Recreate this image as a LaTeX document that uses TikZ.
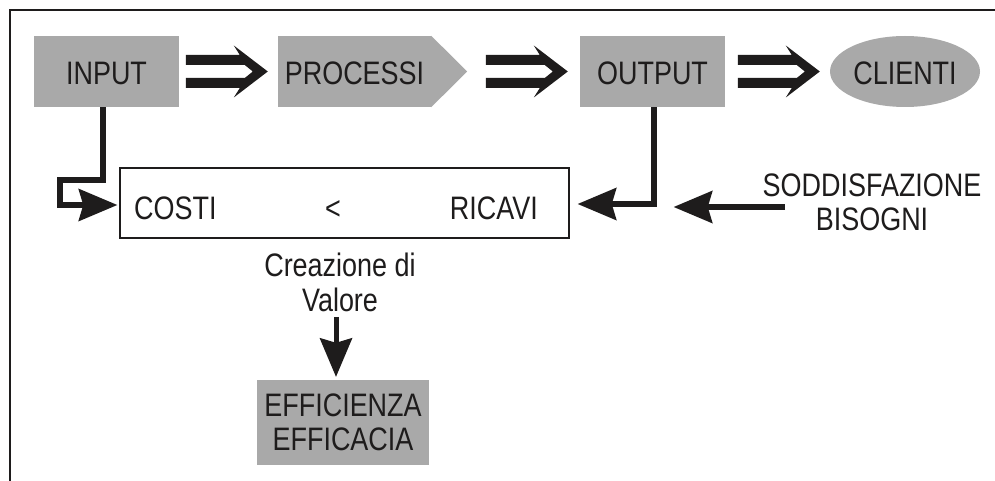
\documentclass[tikz,border=0pt]{standalone}
\usepackage{fontspec}
\setmainfont{Liberation Sans}[FakeStretch=0.83]
\usetikzlibrary{shapes.geometric,arrows.meta,calc}
\definecolor{boxgray}{RGB}{169,169,169}
\definecolor{ink}{RGB}{30,28,28}
\tikzset{
  graybox/.style={rectangle, fill=boxgray, inner sep=0pt, minimum height=71pt,
    text height=27pt, text depth=0pt},
  conn/.style={draw=ink, line width=6pt,
    -{Stealth[length=39pt,width=33pt,inset=5pt,line width=0pt]}},
  txt/.style={inner sep=0pt},
  frameline/.style={draw=ink, line width=2pt},
  dblarrow/.pic={\fill[ink] (-82,-16.5) -- (-28,-16.5) -- (-34,-26) -- (0,0) -- (-34,26)
      -- (-28,16.5) -- (-82,16.5) -- (-82,6.5) -- (-23,6.5) -- (-15,0) -- (-23,-6.5)
      -- (-82,-6.5) -- cycle;}
}
\begin{document}
\begin{tikzpicture}[x=1pt,y=-1pt,font=\fontsize{32.5}{34.5}\selectfont,text=ink]
\useasboundingbox (0,0) rectangle (995,481);
\fill[white] (0,0) rectangle (995,481);
% frame
\draw[frameline] (10,481) -- (10,10) -- (995,10);
% top row
\node[graybox, minimum width=145pt] (input) at (106.5,71.5) {INPUT};
\node[graybox, minimum width=153pt] (processi) at (354.5,71.5) {PROCESSI};
\fill[boxgray] (processi.north east) -- ([xshift=36pt]processi.east) -- (processi.south east) -- cycle;
\node[graybox, minimum width=145pt] (output) at (652.5,71.5) {OUTPUT};
\node[ellipse, fill=boxgray, inner sep=0pt, minimum width=150pt, minimum height=71pt,
  text height=27pt, text depth=0pt] (clienti) at (905,71.5) {CLIENTI};
\pic at ([xshift=-10pt]processi.west) {dblarrow};
\pic at ([xshift=-12pt]output.west) {dblarrow};
\pic at ([xshift=-10pt]clienti.west) {dblarrow};
% cost box
\node[draw=ink, line width=1.5pt, rectangle, minimum width=449pt, minimum height=70pt,
  inner sep=0pt] (costbox) at (344.5,203) {};
\node[txt, anchor=base west] (costi) at (134,219) {COSTI};
\node[txt, anchor=base] (lt) at (333,219) {<};
\node[txt, anchor=base east] (ricavi) at (538,219) {RICAVI};
% side text
\node[txt, align=center] (sodd) at (872,202.4) {SODDISFAZIONE\\BISOGNI};
\node[txt, align=center] (crea) at (340,282.4) {Creazione di\\Valore};
\node[rectangle, fill=boxgray, inner sep=0pt, minimum width=172pt, minimum height=85pt,
  align=center] (effic) at (343,422.5) {EFFICIENZA\\EFFICACIA};
% connectors
\draw[conn, shorten >=2pt] ([xshift=-3.5pt]input.south) |- (60,180) |- ([yshift=-2pt]costbox.west);
\draw[conn, shorten >=8pt] ([xshift=1.5pt]output.south) |- ([yshift=-1pt]costbox.east);
\coordinate (sstart) at (785,207);
\draw[conn] (sstart) -- ([xshift=104pt]costbox.east |- sstart);
\draw[conn, line width=5pt, shorten <=5pt, shorten >=3pt]
  ([xshift=-4pt]crea.south) -- ([xshift=-4pt]crea.south |- effic.north);
\end{tikzpicture}
\end{document}
